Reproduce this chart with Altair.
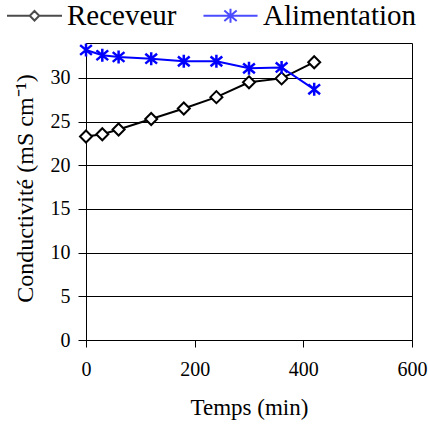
import altair as alt
import pandas as pd

# Data
temps = [0, 30, 60, 120, 180, 240, 300, 360, 420]
receveur = [23.3, 23.55, 24.1, 25.3, 26.5, 27.8, 29.5, 29.95, 31.8]
alimentation = [33.2, 32.6, 32.4, 32.2, 31.9, 31.9, 31.1, 31.2, 28.7]
series = ["Receveur", "Alimentation"]
colors = ["black", "blue"]
x_ticks = [0, 200, 400, 600]
y_ticks = [0, 5, 10, 15, 20, 25, 30]

rows = []
for t, v in zip(temps, receveur):
    rows.append({"t": t, "v": v, "s": "Receveur"})
for t, v in zip(temps, alimentation):
    rows.append({"t": t, "v": v, "s": "Alimentation"})
df = pd.DataFrame(rows)

FONT = "'Liberation Serif', serif"
DIAMOND = "M0,-1L1,0L0,1L-1,0Z"
STAR = "M0,-1L0,1M-0.9,-0.75L0.9,0.75M-0.9,0.75L0.9,-0.75"
LEG_R = "M-5.8,0L-1,0M1,0L5.8,0M0,-1L1,0L0,1L-1,0Z"
LEG_A = "M-5.7,0L5.7,0M0,-1.45L0,1.45M-1.3,-1.1L1.3,1.1M-1.3,1.1L1.3,-1.1"

common_axis = dict(labelFontSize=20, labelColor="black",
                   titleFontWeight="normal", titleColor="black",
                   domainColor="black", tickColor="black")

x_enc = alt.X("t:Q", scale=alt.Scale(domain=[0, 600], nice=False),
              axis=alt.Axis(values=x_ticks, title="Temps (min)", grid=False,
                            tickSize=7, labelPadding=12, labelFlush=False,
                            titleY=56, titleBaseline="top", titleFontSize=23,
                            **common_axis))
y_enc = alt.Y("v:Q", scale=alt.Scale(domain=[0, 34], nice=False),
              axis=alt.Axis(values=y_ticks, title="Conductivité  (mS cm⁻¹)",
                            grid=True, gridColor="black", gridWidth=1, gridOpacity=1,
                            tickSize=8, labelPadding=8, titleFontSize=24,
                            titleX=-61, titleY=145, titleBaseline="middle",
                            titleAlign="center", **common_axis))

base = alt.Chart(df)

line_r = base.transform_filter(alt.datum.s == "Receveur").mark_line(
    color="black", strokeWidth=2).encode(x=x_enc, y=y_enc)
line_a = base.transform_filter(alt.datum.s == "Alimentation").mark_line(
    color="blue", strokeWidth=2).encode(x="t:Q", y="v:Q")
pts_r = base.transform_filter(alt.datum.s == "Receveur").mark_point(
    shape=DIAMOND, size=144, filled=True, fill="white", stroke="black",
    strokeWidth=2, opacity=1, fillOpacity=1).encode(x="t:Q", y="v:Q")
pts_a = base.transform_filter(alt.datum.s == "Alimentation").mark_point(
    shape=STAR, size=170, stroke="blue", strokeWidth=2.5, opacity=1).encode(
    x="t:Q", y="v:Q")

leg = dict(title=None, orient="none", direction="horizontal",
           legendX=-88, legendY=-42,
           symbolSize=90, symbolStrokeWidth=2,
           symbolOffset=22, labelOffset=18,
           columnPadding=17,
           labelFontSize=29, labelColor="black",
           symbolFillColor="transparent")

legend_layer = base.transform_filter("false").mark_point(strokeWidth=2).encode(
    x="t:Q", y="v:Q",
    color=alt.Color("s:N", scale=alt.Scale(domain=series, range=colors),
                    legend=alt.Legend(**leg)),
    shape=alt.Shape("s:N", scale=alt.Scale(domain=series, range=[LEG_R, LEG_A]),
                    legend=alt.Legend(**leg)),
)

chart = alt.layer(line_r, line_a, pts_r, pts_a, legend_layer).properties(
    width=326, height=297,
    autosize=alt.AutoSizeParams(type="none"),
    padding={"left": 86, "top": 43, "right": 16, "bottom": 87},
    background="white",
    view=alt.ViewBackground(stroke="black", strokeWidth=1),
).configure(font=FONT)

chart.save("out.html", embed_options={"renderer": "svg", "actions": False})
